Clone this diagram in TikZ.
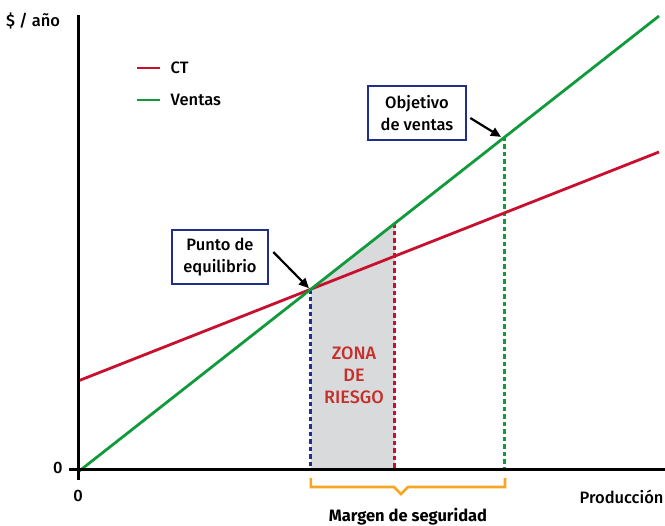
\documentclass[tikz,border=0pt]{standalone}
\usepackage{fontspec}
\setmainfont{Fira Sans}[UprightFont=* Medium, BoldFont=* Bold]
\usetikzlibrary{calc,intersections,arrows.meta}

\definecolor{ctred}{RGB}{200,16,46}
\definecolor{ventasgreen}{RGB}{16,154,60}
\definecolor{boxblue}{RGB}{31,47,138}
\definecolor{zonagray}{RGB}{217,218,220}
\definecolor{zonared}{RGB}{196,48,43}
\definecolor{braceorange}{RGB}{245,166,35}

\tikzset{
  axisline/.style={line width=3pt},
  curveline/.style={line width=2.8pt},
  guideline/.style={line width=3pt, dash pattern=on 4.5pt off 3pt},
  infobox/.style={draw=boxblue, line width=2.6pt, fill=white, align=center,
    minimum height=54pt, inner sep=2pt},
  pointer/.style={line width=2.2pt, -{Triangle[length=10pt,width=9pt]}}
}

\begin{document}
\begin{tikzpicture}[x=1pt,y=-1pt,font=\fontsize{16.5}{22}\selectfont]
    \useasboundingbox (0,0) rectangle (665,526);
    \coordinate (O) at (78,470);
    \coordinate (C0) at (78,381);
    \coordinate (C1) at (659,152);
    \coordinate (V0) at (78,472);
    \coordinate (V1) at (659,16);
    \path[name path=ct] (C0) -- (C1);
    \path[name path=ventas] (V0) -- (V1);
    \path[name intersections={of=ct and ventas, by=E}];
    \coordinate (R) at ($(V0)!0.5456!(V1)$);
    \coordinate (M) at ($(V0)!0.7349!(V1)$);
    % zona de riesgo
    \fill[zonagray] (E) -- (E |- O) -- (R |- O) -- (R) -- cycle;
    \node[text=zonared, align=center, font=\fontsize{18}{22}\selectfont] (zona) at (354,375) {ZONA\\DE\\RIESGO};
    \draw[guideline, boxblue] (E) -- (E |- O);
    \draw[guideline, ctred] (R) -- (R |- O);
    \draw[guideline, ventasgreen] (M) -- (M |- O);
    % rectas
    \draw[curveline, ctred] (C0) -- (C1);
    \draw[curveline, ventasgreen] (V0) -- (V1);
    % ejes
    \draw[axisline] (78,15) -- (78,480);
    \draw[axisline] (69,470) -- (665,470);
    \node (yl) at (33,21) {\$ / año};
    \node[anchor=east] (y0) at (66,468) {0};
    \node (x0) at (78,496) {0};
    \node[anchor=east] (xl) at (667,497) {Producción};
    % leyenda
    \draw[curveline, ctred] (137,68) -- (160,68) node[right=6pt, black] (lct) {CT};
    \draw[curveline, ventasgreen] (137,100) -- (160,100) node[right=6pt, black] (lv) {Ventas};
    % cuadros
    \node[infobox, minimum width=96pt] (pe) at (220,257) {Punto de\\equilibrio};
    \node[infobox, minimum width=98pt] (ov) at (417,113) {Objetivo\\de ventas};
    \draw[pointer] ($(pe.east)+(4,-5)$) -- ($(E)+(-2,-1)$);
    \draw[pointer] ($(ov.east)+(3,5)$) -- ($(M)+(-4,0)$);
    % margen
    \draw[line width=2.6pt, braceorange, line join=miter]
      (E |- 0,478) -- (E |- 0,487) -- (394,487) -- (401,494) -- (408,487)
      -- (M |- 0,487) -- (M |- 0,478);
    \node[font=\fontsize{16.5}{18}\selectfont\bfseries] (ms) at (408,517) {Margen de seguridad};
\end{tikzpicture}
\end{document}
